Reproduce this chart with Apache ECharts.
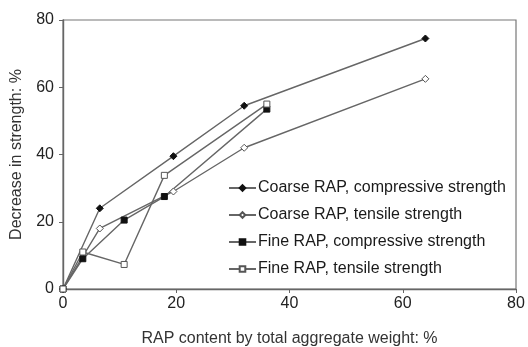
<!DOCTYPE html>
<html>
<head>
<meta charset="utf-8">
<script src="https://cdn.jsdelivr.net/npm/echarts@6/dist/echarts.min.js"></script>
<style>
  html, body { margin: 0; padding: 0; background: #fff; }
  #chart { width: 528px; height: 347px; }
</style>
</head>
<body>
<div id="chart"></div>
<script>
// RAP content (% of total aggregate weight) for each aggregate type
const coarseRap = [0, 6.5, 19.5, 32, 64];
const fineRap = [0, 3.5, 10.8, 17.9, 36];

// Decrease in strength (%)
const coarseCompressive = [0, 24, 39.5, 54.5, 74.5];
const coarseTensile = [0, 18, 29, 42, 62.5];
const fineCompressive = [0, 9, 20.5, 27.5, 53.5];
const fineTensile = [0, 11, 7.3, 33.8, 55];

const axisTicks = [0, 20, 40, 60, 80];

const seriesNames = [
  'Coarse RAP, compressive strength',
  'Coarse RAP, tensile strength',
  'Fine RAP, compressive strength',
  'Fine RAP, tensile strength'
];

const FONT = 'Liberation Sans, Arial, sans-serif';
const LINE = '#666';
const INK = '#111';

function pairs(xs, ys) {
  return xs.map((x, i) => [x, ys[i]]);
}

function makeSeries(name, xs, ys, symbol, filled) {
  return {
    name: name,
    type: 'line',
    data: pairs(xs, ys),
    symbol: symbol,
    symbolSize: symbol === 'diamond' ? 7 : 6,
    showAllSymbol: true,
    lineStyle: { color: LINE, width: 1.4 },
    itemStyle: {
      color: filled ? INK : '#fff',
      borderColor: filled ? INK : '#555',
      borderWidth: 1
    },
    emphasis: { disabled: true },
    animation: false,
    z: 3
  };
}

const chart = echarts.init(document.getElementById('chart'));
chart.setOption({
  backgroundColor: '#fff',
  animation: false,
  grid: {
    left: 63, right: 12, top: 20, bottom: 58,
    containLabel: false,
    outerBoundsMode: 'none',
    show: true, borderColor: '#777', borderWidth: 1.2, backgroundColor: 'transparent'
  },
  legend: {
    orient: 'vertical',
    left: 228, top: 180,
    padding: 0,
    itemWidth: 27, itemHeight: 7,
    itemGap: 11,
    data: seriesNames,
    textStyle: { fontFamily: FONT, fontSize: 16, color: '#1a1a1a', padding: [0, 0, 0, -3] }
  },
  xAxis: {
    type: 'value',
    min: axisTicks[0], max: axisTicks[axisTicks.length - 1], interval: 20,
    name: 'RAP content by total aggregate weight: %',
    nameLocation: 'middle', nameGap: 42,
    nameTextStyle: { fontFamily: FONT, fontSize: 16, color: '#333' },
    axisLine: { lineStyle: { color: '#666', width: 1.4 } },
    axisTick: { length: 4, lineStyle: { color: '#666' } },
    axisLabel: { fontFamily: FONT, fontSize: 16, color: '#222', margin: 7 },
    splitLine: { show: false }
  },
  yAxis: {
    type: 'value',
    min: axisTicks[0], max: axisTicks[axisTicks.length - 1], interval: 20,
    name: 'Decrease in strength: %',
    nameLocation: 'middle', nameGap: 38,
    nameTextStyle: { fontFamily: FONT, fontSize: 16, color: '#333' },
    axisLine: { lineStyle: { color: '#666', width: 1.4 } },
    axisTick: { length: 4, lineStyle: { color: '#666' } },
    axisLabel: { fontFamily: FONT, fontSize: 16, color: '#222', margin: 9 },
    splitLine: { show: false }
  },
  series: [
    makeSeries(seriesNames[0], coarseRap, coarseCompressive, 'diamond', true),
    makeSeries(seriesNames[1], coarseRap, coarseTensile, 'diamond', false),
    makeSeries(seriesNames[2], fineRap, fineCompressive, 'rect', true),
    makeSeries(seriesNames[3], fineRap, fineTensile, 'rect', false)
  ]
});
</script>
</body>
</html>
